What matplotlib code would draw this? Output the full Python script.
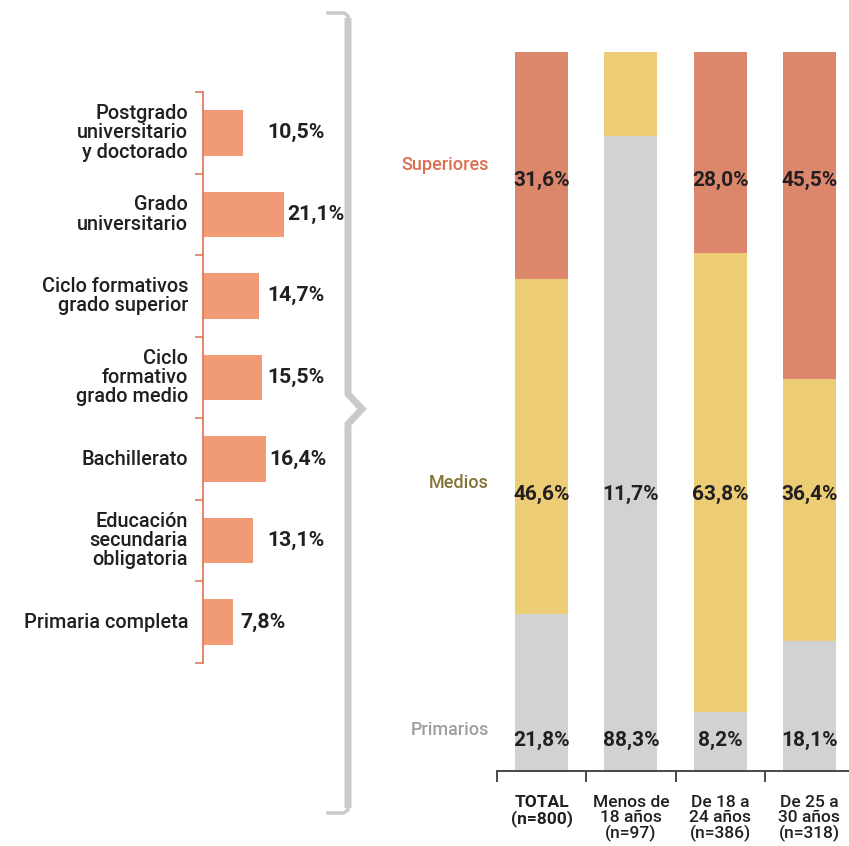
import matplotlib.pyplot as plt

plt.rcParams['font.family'] = ['Roboto', 'DejaVu Sans']

# Nivel de estudios de los padres (izquierda)
estudios = ["Postgrado\nuniversitario\ny doctorado", "Grado\nuniversitario",
            "Ciclo formativos\ngrado superior", "Ciclo\nformativo\ngrado medio",
            "Bachillerato", "Educación\nsecundaria\nobligatoria", "Primaria completa"]
estudios_pct = [10.5, 21.1, 14.7, 15.5, 16.4, 13.1, 7.8]

# Agrupado por nivel y edad (derecha)
grupos = ["TOTAL\n(n=800)", "Menos de\n18 años\n(n=97)", "De 18 a\n24 años\n(n=386)",
          "De 25 a\n30 años\n(n=318)"]
niveles = ["Primarios", "Medios", "Superiores"]
primarios = [21.8, 88.3, 8.2, 18.1]
medios = [46.6, 11.7, 63.8, 36.4]
superiores = [31.6, 0.0, 28.0, 45.5]

c_left = "#f19b76"
c_axis = "#e07b5f"
c_sup = "#dc866c"
c_med = "#eccd76"
c_pri = "#d1d2d4"
c_txt = "#231f20"
c_brace = "#c9cacc"

W, H = 849, 846
fig = plt.figure(figsize=(W / 100, H / 100), dpi=100)


def box(x0, y0, x1, y1):
    # pixel box (top-left origin) -> figure fraction
    return [x0 / W, (H - y1) / H, (x1 - x0) / W, (y1 - y0) / H]


# ---- left: horizontal bars ----
ax1 = fig.add_axes(box(203, 92, 318, 663))
y = list(range(len(estudios)))
ax1.barh(y, estudios_pct, height=0.56, color=c_left)
ax1.set_xlim(0, 30)
ax1.set_ylim(6.5, -0.5)
for s in ["top", "right", "bottom"]:
    ax1.spines[s].set_visible(False)
ax1.spines["left"].set_color(c_axis)
ax1.spines["left"].set_linewidth(1.3)
ax1.set_xticks([])
ax1.set_yticks([i - 0.5 for i in range(len(estudios) + 1)])
ax1.set_yticklabels([])
ax1.tick_params(axis="y", length=6, width=1.2, color=c_axis, direction="out")
for i, (lab, v) in enumerate(zip(estudios, estudios_pct)):
    ax1.text(-3.9, i, lab, ha="right", va="center", fontsize=14.3, color=c_txt,
             fontweight="medium", linespacing=1.02, clip_on=False)
    lx = v + 2 if v < 10 else max(v + 0.8, 16.9)
    ax1.text(lx, i, f"{v:.1f}%".replace(".", ","), ha="left", va="center",
             fontsize=15.3, color=c_txt, fontweight="bold", clip_on=False)

# ---- right: stacked columns ----
ax2 = fig.add_axes(box(497, 52, 849, 771))
x = list(range(len(grupos)))
bw = 0.594
ax2.bar(x, primarios, width=bw, color=c_pri)
ax2.bar(x, medios, width=bw, bottom=primarios, color=c_med)
base = [p + m for p, m in zip(primarios, medios)]
ax2.bar(x, superiores, width=bw, bottom=base, color=c_sup)
ax2.set_xlim(-0.5, -0.5 + 352 / 89.25)
ax2.set_ylim(0, 100)
for s in ["top", "right", "left"]:
    ax2.spines[s].set_visible(False)
ax2.spines["bottom"].set_color("#3a3a3a")
ax2.spines["bottom"].set_linewidth(1.3)
ax2.set_yticks([])
ax2.set_xticks([i - 0.5 for i in range(len(grupos))])
ax2.set_xticklabels([])
ax2.tick_params(axis="x", length=8, width=1.3, color="#3a3a3a", direction="out")

row_y = {"Superiores": 82.2, "Medios": 38.5, "Primarios": 4.3}
name_y = {"Superiores": 84.3, "Medios": 40.1, "Primarios": 5.7}
name_col = {"Superiores": "#dd6f50", "Medios": "#857338", "Primarios": "#9d9fa2"}
for nivel, vals in zip(niveles, [primarios, medios, superiores]):
    ax2.text(-0.59, name_y[nivel], nivel, ha="right", va="center", fontsize=13,
             color=name_col[nivel], fontweight="medium", clip_on=False)
    for xi, v in zip(x, vals):
        if v > 0:
            ax2.text(xi, row_y[nivel], f"{v:.1f}%".replace(".", ","), ha="center",
                     va="center", fontsize=15, color=c_txt, fontweight="bold")

for i, g in enumerate(grupos):
    ax2.text(i, -3.3, g, ha="center", va="top", fontsize=12.5, color=c_txt,
             fontweight="bold" if i == 0 else "medium", linespacing=1.0,
             clip_on=False)

# ---- brace between the two panels ----
ov = fig.add_axes([0, 0, 1, 1], zorder=-1)
ov.set_xlim(0, W)
ov.set_ylim(H, 0)
ov.axis("off")
ov.plot([348, 348, 362, 348, 348], [18, 394, 409, 424, 808], color=c_brace,
        lw=5, solid_joinstyle="miter", solid_capstyle="butt")
ov.plot([328, 344, 348, 348], [13, 13, 16, 20], color=c_brace, lw=2.5)
ov.plot([328, 344, 348, 348], [813, 813, 810, 806], color=c_brace, lw=2.5)

fig.savefig("out.png", dpi=100)
